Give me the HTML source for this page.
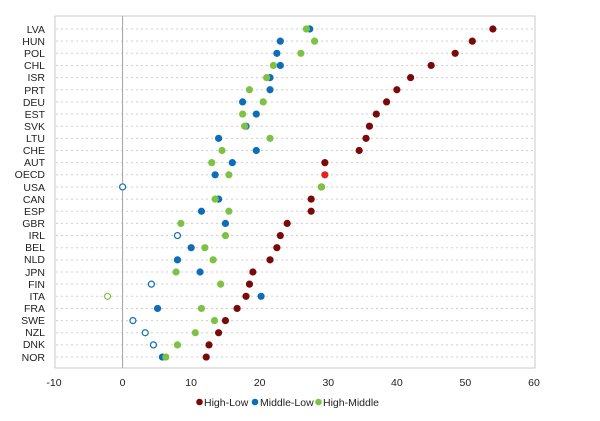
<!DOCTYPE html>
<html><head><meta charset="utf-8"><style>
html,body{margin:0;padding:0;background:#fff;}
svg{display:block;font-family:"Liberation Sans",sans-serif;}
</style></head><body>
<svg id="s" width="600" height="421" viewBox="0 0 600 421">
<rect x="55" y="16" width="480" height="352" fill="#fff" stroke="#c8c8c8" stroke-width="1"/>
<g id="grid"></g>
<line x1="122.6" y1="16" x2="122.6" y2="368" stroke="#a0a0a0" stroke-width="1"/>
<g font-size="10.5" fill="#222" text-anchor="end">
<text x="45" y="33">LVA</text><text x="45" y="45">HUN</text><text x="45" y="57">POL</text><text x="45" y="69">CHL</text><text x="45" y="81">ISR</text><text x="45" y="94">PRT</text><text x="45" y="106">DEU</text><text x="45" y="118">EST</text><text x="45" y="130">SVK</text><text x="45" y="142">LTU</text><text x="45" y="154">CHE</text><text x="45" y="166">AUT</text><text x="45" y="178">OECD</text><text x="45" y="191">USA</text><text x="45" y="203">CAN</text><text x="45" y="215">ESP</text><text x="45" y="227">GBR</text><text x="45" y="239">IRL</text><text x="45" y="251">BEL</text><text x="45" y="263">NLD</text><text x="45" y="276">JPN</text><text x="45" y="288">FIN</text><text x="45" y="300">ITA</text><text x="45" y="312">FRA</text><text x="45" y="324">SWE</text><text x="45" y="336">NZL</text><text x="45" y="348">DNK</text><text x="45" y="361">NOR</text>
</g>
<g font-size="10.5" fill="#222" text-anchor="middle">
<text x="54" y="386">-10</text><text x="122.6" y="386">0</text><text x="191.1" y="386">10</text><text x="259.7" y="386">20</text><text x="328.3" y="386">30</text><text x="396.9" y="386">40</text><text x="465.4" y="386">50</text><text x="534" y="386">60</text>
</g>
<g font-size="10.5" fill="#222">
<circle cx="199.5" cy="402" r="3.3" fill="#7a0a0a"/><text x="204" y="406">High-Low</text>
<circle cx="255" cy="402" r="3.3" fill="#0c6eb8"/><text x="260" y="406">Middle-Low</text>
<circle cx="318.5" cy="402" r="3.3" fill="#7dc243"/><text x="323" y="406">High-Middle</text>
</g>
<g id="dots"></g>
</svg>
<script>
var d=[[54,27.3,26.8],[51,23,28],[48.5,22.5,26],[45,23,22],[42,21.5,21],[40,21.5,18.5],[38.5,17.5,20.5],[37,19.5,17.5],[36,18,17.8],[35.5,14,21.5],[34.5,19.5,14.5],[29.5,16,13],[29.5,13.5,15.5],[29,0,29],[27.5,14,13.5],[27.5,11.5,15.5],[24,15,8.5],[23,8,15],[22.5,10,12],[21.5,8,13.2],[19,11.3,7.8],[18.5,4.2,14.3],[18,20.2,-2.2],[16.7,5.1,11.5],[15,1.5,13.4],[14,3.3,10.6],[12.6,4.5,8],[12.2,5.8,6.3]];
var open={"13,1":1,"17,1":1,"21,1":1,"22,2":1,"24,1":1,"25,1":1,"26,1":1};
var cols=["#7a0a0a","#0c6eb8","#7dc243"];
var g="",dt="";
for(var i=0;i<28;i++){var y=29+i*12.15;
g+='<line x1="56" x2="534" y1="'+y+'" y2="'+y+'" stroke="#cfcfcf" stroke-width="1" stroke-dasharray="2,3"/>';
for(var k=0;k<3;k++){var x=122.6+6.857*d[i][k];var c=cols[k];if(i==12&&k==0)c="#e8201c";
if(open[i+","+k])dt+='<circle cx="'+x+'" cy="'+y+'" r="3" fill="#fff" stroke="'+c+'" stroke-width="1.2"/>';
else dt+='<circle cx="'+x+'" cy="'+y+'" r="3.6" fill="'+c+'"/>';}}
document.getElementById("grid").innerHTML=g;document.getElementById("dots").innerHTML=dt;
</script>
</body></html>
